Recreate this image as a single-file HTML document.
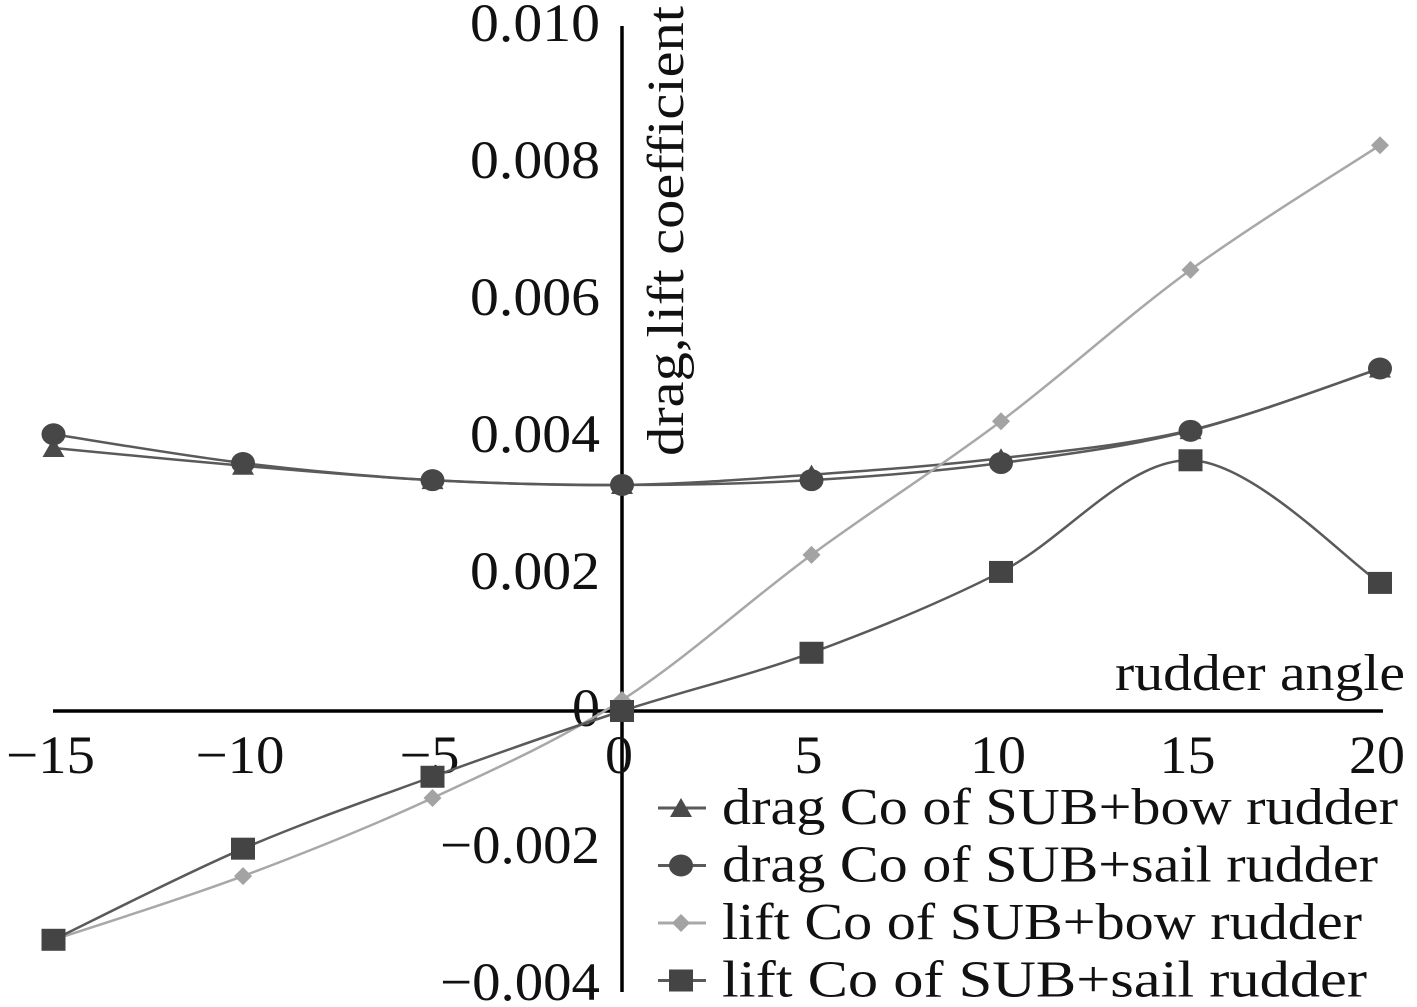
<!DOCTYPE html>
<html><head><meta charset="utf-8"><style>
html,body{margin:0;padding:0;background:#fff;}
svg{display:block;}
text{font-family:"Liberation Serif",serif;fill:#111;}
</style></head><body>
<svg id="chart" width="1417" height="1007" viewBox="0 0 1417 1007">
<g id="axes"></g><g id="series"></g><g id="legend"></g>
</svg>
<script>
const categories = [-15, -10, -5, 0, 5, 10, 15, 20];
const dragBow  = [0.00384, 0.00358, 0.00337, 0.0033, 0.00345, 0.00369, 0.0041, 0.0050];
const dragSail = [0.00404, 0.00362, 0.00337, 0.0033, 0.00337, 0.00362, 0.00409, 0.0050];
const liftBow  = [-0.00334, -0.00241, -0.00127, 0.00016, 0.00228, 0.00423, 0.00644, 0.00826];
const liftSail = [-0.00334, -0.00201, -0.00096, 0.0, 0.00085, 0.00203, 0.00366, 0.00187];
const xTicks = [-15, -10, -5, 0, 5, 10, 15, 20];
const yTicks = [0.010, 0.008, 0.006, 0.004, 0.002, 0, -0.002, -0.004];
const yTickLabels = ["0.010","0.008","0.006","0.004","0.002","0","\u22120.002","\u22120.004"];
const seriesNames = ["drag Co of SUB+bow rudder","drag Co of SUB+sail rudder","lift Co of SUB+bow rudder","lift Co of SUB+sail rudder"];

const NS = "http://www.w3.org/2000/svg";
const x = v => 622 + (v) * (1380 - 622) / 20;
const y = v => 711 - v * 68500;
function mk(tag, attrs, parent){ const e=document.createElementNS(NS,tag); for(const k in attrs) e.setAttribute(k,attrs[k]); parent.appendChild(e); return e; }
const axes=document.getElementById('axes'), ser=document.getElementById('series'), leg=document.getElementById('legend');

let ax = mk('line',{x1:53,y1:y(0),x2:1383,y2:y(0),stroke:'#000','stroke-width':3.5},axes);
 
let ay = mk('line',{x1:x(0),y1:26,x2:x(0),y2:992,stroke:'#000','stroke-width':3.5},axes);
 

xTicks.forEach(v=>{
  const neg = v<0;
  const w = neg ? (Math.abs(v)>=10 ? 89 : 60) : (v>=10 ? 56 : 28);
  const t=mk('text',{x:x(v)-w/2-3,y:773,'font-size':54,textLength:w,lengthAdjust:'spacingAndGlyphs'},axes);
  t.textContent = neg ? '\u2212'+Math.abs(v) : String(v);
   
});
yTicks.forEach((v,i)=>{
  const lab=yTickLabels[i];
  const w = lab==='0' ? 28 : (v<0 ? 160 : 130);
  const t=mk('text',{x:600-w,y:y(v)+15,'font-size':54,textLength:w,lengthAdjust:'spacingAndGlyphs'},axes);
  t.textContent = lab;
   
});
let xt=mk('text',{x:1115,y:690,'font-size':52,textLength:290,lengthAdjust:'spacingAndGlyphs'},axes); xt.textContent='rudder angle';
 
let yt=mk('text',{x:0,y:0,'font-size':52,textLength:450,lengthAdjust:'spacingAndGlyphs',transform:'translate(683,456) rotate(-90)'},axes); yt.textContent='drag,lift coefficient';
 

function smoothPath(pts){
  let d=`M${pts[0][0]},${pts[0][1]}`;
  for(let i=0;i<pts.length-1;i++){
    const p0=pts[Math.max(i-1,0)],p1=pts[i],p2=pts[i+1],p3=pts[Math.min(i+2,pts.length-1)];
    const t=1/6;
    const c1=[p1[0]+(p2[0]-p0[0])*t,p1[1]+(p2[1]-p0[1])*t];
    const c2=[p2[0]-(p3[0]-p1[0])*t,p2[1]-(p3[1]-p1[1])*t];
    d+=` C${c1[0]},${c1[1]} ${c2[0]},${c2[1]} ${p2[0]},${p2[1]}`;
  }
  return d;
}
function marker(type,cx,cy,color,parent){
  let e;
  if(type==='tri') e=mk('polygon',{points:`${cx},${cy-10} ${cx+11},${cy+9} ${cx-11},${cy+9}`,fill:color},parent);
  else if(type==='circ') e=mk('ellipse',{cx:cx,cy:cy,rx:12,ry:11,fill:color},parent);
  else if(type==='dia') e=mk('polygon',{points:`${cx},${cy-9} ${cx+9},${cy} ${cx},${cy+9} ${cx-9},${cy}`,fill:color},parent);
  else e=mk('rect',{x:cx-12,y:cy-11,width:24,height:22,fill:color},parent);
  return e;
}
const defs=[
  {data:dragBow,type:'tri',color:'#4a4a4a',name:'drag-bow'},
  {data:dragSail,type:'circ',color:'#474747',name:'drag-sail'},
  {data:liftBow,type:'dia',color:'#a3a3a3',name:'lift-bow'},
  {data:liftSail,type:'sq',color:'#444',name:'lift-sail'}
];
const legendWidths=[676,656,640,645];
defs.forEach((s,si)=>{
  const g=mk('g',{},ser);
   
  const pts=categories.map((c,i)=>[x(c),y(s.data[i])]);
  const p=mk('path',{d:smoothPath(pts),fill:'none',stroke:s.type==='dia'?'#a8a8a8':'#5a5a5a','stroke-width':2.5},g);
   
  pts.forEach(pt=>{
    const m=marker(s.type,pt[0],pt[1],s.color,g);
     
  });
  const cy=808+si*57.5;
  const lg=mk('g',{},leg);
   
  mk('line',{x1:658,y1:cy,x2:706,y2:cy,stroke:s.type==='dia'?'#a8a8a8':'#5a5a5a','stroke-width':3},lg);
  marker(s.type,681,cy,s.color,lg);
  const t=mk('text',{x:722,y:cy+16,'font-size':52,textLength:legendWidths[si],lengthAdjust:'spacingAndGlyphs'},lg); t.textContent=seriesNames[si];
});
</script>
</body></html>
